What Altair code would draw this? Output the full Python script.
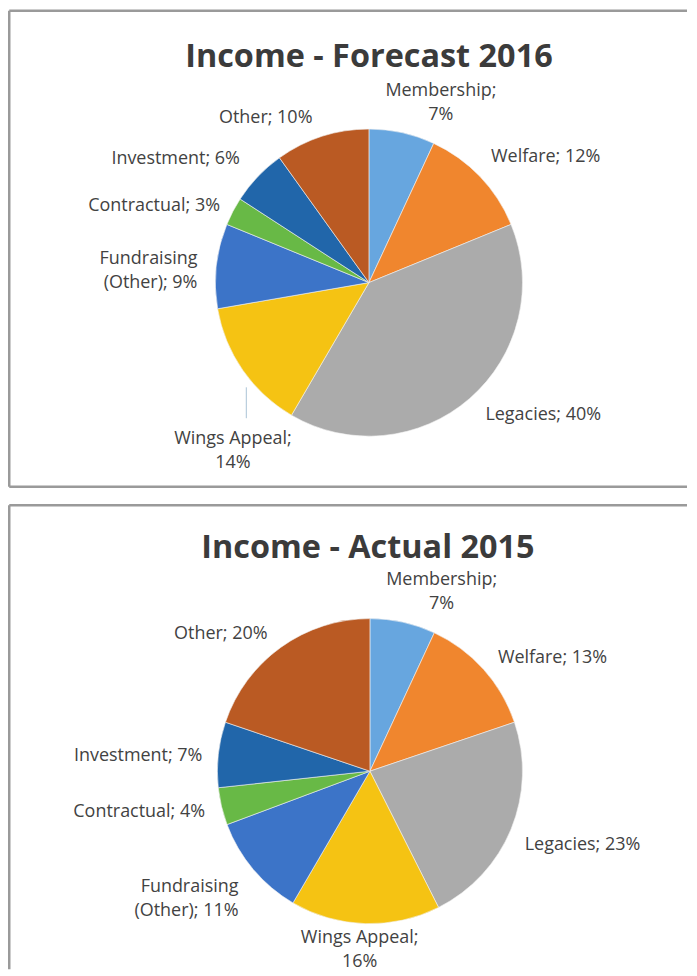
import math
import altair as alt
import numpy as np
import pandas as pd

# ---- data ----
categories = ["Membership", "Welfare", "Legacies", "Wings Appeal",
              "Fundraising (Other)", "Contractual", "Investment", "Other"]
forecast_2016 = [7, 12, 40, 14, 9, 3, 6, 10]
actual_2015 = [7, 13, 23, 16, 11, 4, 7, 20]
title_top = "Income - Forecast 2016"
title_bottom = "Income - Actual 2015"

# ---- styles ----
colors = ["#67a6df", "#f0862e", "#ababab", "#f5c313",
          "#3c74c8", "#68b946", "#2166aa", "#ba5a23"]
label_align = ["center", "left", "left", "center", "right", "right", "right", "right"]
# small label nudges (dx, dy) as Excel placed them
nudges_top = [(35, -24), (-2, -7), (4, 3), (5, 59), (-1, -5), (3, 3), (-5, -5), (-4, -1)]
nudges_bottom = [(35, -25), (1, 1), (-3, 9), (-5, -4), (-1, 6), (1, 1), (2, 3), (-3, 1)]

FONT = "Open Sans"
TEXT_COLOR = "#424242"
BORDER = "#9a9a9a"
W = 681


def label_for(cat, v):
    if cat in ("Membership", "Wings Appeal"):
        return f"{cat};\n{v}%"
    if cat == "Fundraising (Other)":
        return f"Fundraising\n(Other); {v}%"
    return f"{cat}; {v}%"


def panel(values, title, w, h, cx, cy, R, tx, ty, nudges, leader=None, bottom_border=True):
    vals = np.array(values, dtype=float)
    end = np.cumsum(vals)
    start = end - vals
    mid = (start + end) / 2
    total = float(vals.sum())
    df = pd.DataFrame({
        "category": categories,
        "value": values,
        "start": start,
        "end": end,
        "mid": mid,
        "label": [label_for(c, v) for c, v in zip(categories, values)],
    })
    one = pd.DataFrame({"t": [title]})
    theta_scale = alt.Scale(domain=[0, total], range=[0, 2 * math.pi])
    color = alt.Color("category:N", scale=alt.Scale(domain=categories, range=colors), legend=None)
    base = alt.Chart(df)
    arcs = base.mark_arc(outerRadius=R, stroke="#f2f2f2", strokeWidth=0.6).encode(
        theta=alt.Theta("start:Q", stack=None, scale=theta_scale),
        theta2="end:Q",
        color=color,
        order=alt.Order("start:Q"),
        x=alt.value(cx), y=alt.value(cy),
    )
    layers = [arcs]
    # panel frame (left, top, optional bottom)
    layers.append(alt.Chart(one).mark_rule(color=BORDER, strokeWidth=2.5).encode(
        x=alt.value(1.25), y=alt.value(1.25), y2=alt.value(h - 1.25)))
    layers.append(alt.Chart(one).mark_rule(color=BORDER, strokeWidth=2.5).encode(
        x=alt.value(1.25), x2=alt.value(w), y=alt.value(1.25)))
    if bottom_border:
        layers.append(alt.Chart(one).mark_rule(color=BORDER, strokeWidth=2.5).encode(
            x=alt.value(1.25), x2=alt.value(w), y=alt.value(h - 1.25)))
    if leader is not None:
        lx, ly1, ly2 = leader
        layers.append(
            alt.Chart(one).mark_rule(color="#aac3d6", strokeWidth=1).encode(
                x=alt.value(lx), y=alt.value(ly1), y2=alt.value(ly2))
        )
    for i, cat in enumerate(categories):
        dx, dy = nudges[i]
        layers.append(
            base.transform_filter(alt.datum.category == cat).mark_text(
                radius=R + 18, align=label_align[i], baseline="middle", dx=dx, dy=dy,
                font=FONT, fontSize=18, color=TEXT_COLOR, lineBreak="\n", lineHeight=24,
            ).encode(
                theta=alt.Theta("mid:Q", stack=None, scale=theta_scale),
                text="label:N",
                x=alt.value(cx), y=alt.value(cy),
            )
        )
    layers.append(
        alt.Chart(one).mark_text(
            font=FONT, fontSize=32.5, fontWeight="bold", color="#3b3b3b", baseline="middle", align="center"
        ).encode(text="t:N", x=alt.value(tx), y=alt.value(ty))
    )
    return alt.layer(*layers).properties(width=w, height=h)


top = panel(forecast_2016, title_top, W, 480, 362, 274, 154, 362, 48, nudges_top,
            leader=(239, 379, 410))
bottom = panel(actual_2015, title_bottom, W, 468, 363, 268, 153, 361, 44, nudges_bottom,
               bottom_border=False)

chart = alt.vconcat(top, bottom, spacing=16).properties(
    padding=0, background="white"
).configure_view(stroke=None)

chart.save("out.html", embed_options={"renderer": "svg", "actions": False})
